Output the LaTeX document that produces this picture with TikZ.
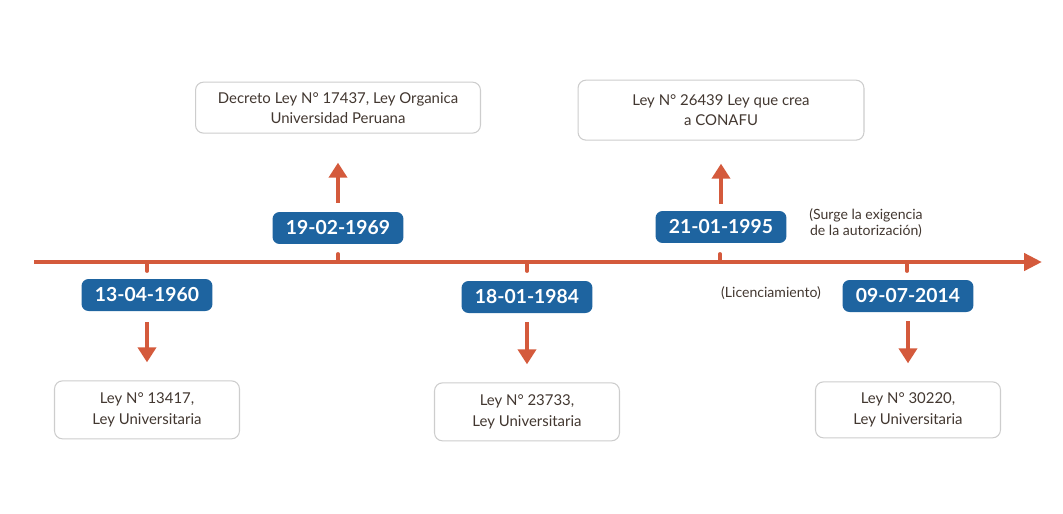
\documentclass[tikz,border=0pt]{standalone}
\usepackage{fontspec}
\setmainfont{Lato}
\usepackage{tikz}
\usetikzlibrary{positioning}
\usetikzlibrary{arrows.meta}
\definecolor{lineorange}{RGB}{212,90,60}
\definecolor{dateblue}{RGB}{30,100,160}
\definecolor{lawtext}{RGB}{66,55,48}
\definecolor{lawborder}{RGB}{205,205,205}
\tikzstyle{datebox} = [rectangle, fill=dateblue, text=white, font=\bfseries\fontsize{11}{13}\selectfont,
                minimum width=2.62cm, minimum height=0.64cm, rounded corners=0.14cm, inner sep=0pt]
\tikzstyle{lawbox} = [rectangle, draw=lawborder, fill=white, text=lawtext, line width=0.6pt,
                font=\fontsize{8.5}{11.4}\selectfont, align=center, rounded corners=0.16cm,
                minimum width=3.7cm, minimum height=1.16cm]
\tikzstyle{note} = [text=lawtext, font=\fontsize{8}{9.5}\selectfont, align=center]
\tikzstyle{line} = [draw=lineorange, line width=2.8pt, -{Triangle[width=0.36cm,length=0.3cm]}]
\tikzstyle{tick} = [draw=lineorange, line width=2.2pt, line cap=round]

\begin{document}
\begin{tikzpicture}[x=0.02cm, y=-0.02cm]
        \useasboundingbox (0,0) rectangle (1063,514);
        % time axis
        \coordinate (start) at (34,262);
        \coordinate (end) at (1042,262);
        \draw[draw=lineorange, line width=2.5pt, -{Triangle[width=0.34cm,length=0.36cm]}] (start) -- (end);
        \draw[tick] (147,262) -- (147,271);
        \draw[tick] (338,262) -- (338,254);
        \draw[tick] (527,262) -- (527,271);
        \draw[tick] (720,262) -- (720,254);
        \draw[tick] (907,262) -- (907,271);
        % dates
        \node[datebox] (d1960) at (147,295) {13-04-1960};
        \node[datebox] (d1969) at (338,228) {19-02-1969};
        \node[datebox] (d1984) at (527,297) {18-01-1984};
        \node[datebox] (d1995) at (721,227) {21-01-1995};
        \node[datebox] (d2014) at (908,296) {09-07-2014};
        % laws
        \node[lawbox, below=1.38cm of d1960] (ley13417) {Ley N° 13417,\\ Ley Universitaria};
        \node[lawbox, minimum width=5.7cm, minimum height=1.02cm, above=1.56cm of d1969] (ley17437) {Decreto Ley N° 17437, Ley Organica\\ Universidad Peruana};
        \node[lawbox, below=1.38cm of d1984] (ley23733) {Ley N° 23733,\\ Ley Universitaria};
        \node[lawbox, minimum width=5.72cm, minimum height=1.2cm, above=1.4cm of d1995] (ley26439) {Ley N° 26439 Ley que crea\\ a CONAFU};
        \node[lawbox, minimum height=1.12cm, below=1.38cm of d2014] (ley30220) {Ley N° 30220,\\ Ley Universitaria};
        % notes
        \node[note] (exigencia) at (866,223) {(Surge la exigencia\\ de la autorización)};
        \node[note] (licencia) at (771,293) {(Licenciamiento)};
        % arrows
        \path[line, shorten <=0.22cm, shorten >=0.36cm] (d1960) -- (ley13417);
        \path[line, shorten <=0.18cm, shorten >=0.58cm] (d1969) -- (ley17437);
        \path[line, shorten <=0.18cm, shorten >=0.36cm] (d1984) -- (ley23733);
        \path[line, shorten <=0.14cm, shorten >=0.46cm] (d1995) -- (ley26439);
        \path[line, shorten <=0.18cm, shorten >=0.36cm] (d2014) -- (ley30220);
    \end{tikzpicture}
\end{document}
